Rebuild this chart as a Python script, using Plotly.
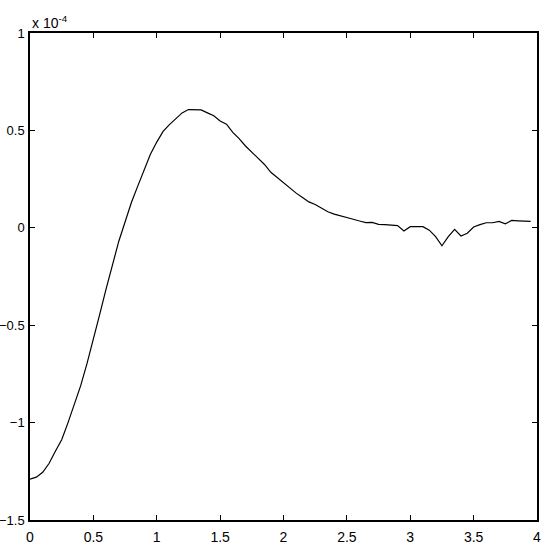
import numpy as np
import plotly.graph_objects as go

# sample positions and response (values in units of 1e-4)
x_vals = np.round(np.arange(80) * 0.05, 2)
y_vals = [
    -1.29, -1.28, -1.255, -1.21, -1.147, -1.088, -1.0, -0.91, -0.81, -0.696,
    -0.575, -0.444, -0.315, -0.19, -0.07, 0.03, 0.13, 0.214, 0.30, 0.378,
    0.44, 0.495, 0.53, 0.562, 0.59, 0.607, 0.607, 0.605, 0.59, 0.575,
    0.548, 0.532, 0.49, 0.458, 0.42, 0.39, 0.355, 0.325, 0.285, 0.258,
    0.235, 0.203, 0.178, 0.155, 0.133, 0.12, 0.10, 0.082, 0.07, 0.06,
    0.052, 0.044, 0.035, 0.027, 0.028, 0.018, 0.016, 0.013, 0.011, -0.016,
    0.006, 0.006, 0.006, -0.012, -0.045, -0.092, -0.045, -0.008, -0.042, -0.028,
    0.004, 0.016, 0.026, 0.026, 0.033, 0.020, 0.038, 0.036, 0.034, 0.033,
]

x_ticks = [0, 0.5, 1, 1.5, 2, 2.5, 3, 3.5, 4]
y_ticks = [-1.5, -1, -0.5, 0, 0.5, 1]

axis_style = dict(
    showgrid=False,
    zeroline=False,
    showline=True,
    linecolor='black',
    linewidth=1.5,
    mirror='ticks',
    ticks='inside',
    ticklen=5,
    tickwidth=1,
    tickcolor='black',
    automargin=False,
    ticklabeloverflow='allow',
)

fig = go.Figure(
    data=go.Scatter(x=x_vals, y=y_vals, mode='lines', line=dict(color='black', width=1.2), showlegend=False),
    layout=go.Layout(
        width=545,
        height=545,
        paper_bgcolor='white',
        plot_bgcolor='white',
        font=dict(family='Liberation Sans, Arial, sans-serif', size=14, color='black'),
        margin=dict(l=30, r=8, t=33, b=25),
        xaxis=dict(range=[0, 4], tickvals=x_ticks, ticklabelstandoff=3,
                   tickfont=dict(size=14, color='black'), **axis_style),
        yaxis=dict(range=[-1.5, 1], tickvals=y_ticks, ticklabelstandoff=1,
                   tickfont=dict(size=13, color='black'), **axis_style),
    ),
)
fig.add_annotation(
    text='x 10<sup>-4</sup>',
    xref='paper', yref='paper',
    x=0.0, y=1.0,
    xanchor='left', yanchor='bottom',
    showarrow=False,
    font=dict(size=14),
)
# page body has a default 8px margin; drop it so the 545px figure fills the window
fig.write_html(
    'out.html',
    config={'displayModeBar': False},
    post_script="document.body.style.margin = '0';",
)
